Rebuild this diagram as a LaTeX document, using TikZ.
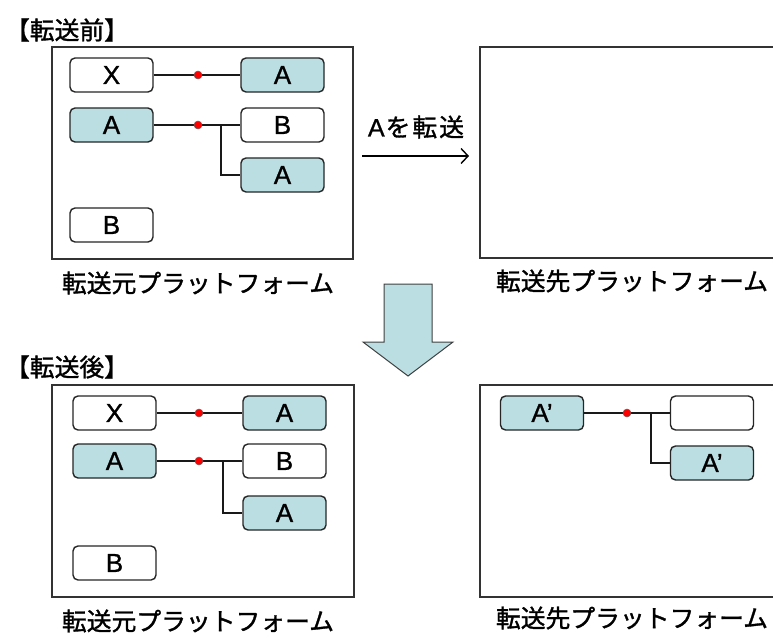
\documentclass[tikz,border=0pt]{standalone}
\usepackage{fontspec}
\usetikzlibrary{arrows.meta}
\setmainfont[FakeBold=1]{Liberation Sans}
\newfontfamily\jp[FakeBold=1.3]{Noto Sans CJK JP}
\definecolor{cellfill}{RGB}{186,222,226}
\definecolor{dotred}{RGB}{255,0,0}
\begin{document}
\begin{tikzpicture}[x=1pt,y=-1pt,
  cell/.style={draw=black!85,line width=1.4pt,rounded corners=5pt,minimum width=83pt,minimum height=34pt,inner sep=0pt,font=\fontsize{26}{26}\selectfont},
  hl/.style={cell,fill=cellfill},
  plain/.style={cell,fill=white},
  plat/.style={draw=black!80,line width=1.3pt,fill=white},
  wire/.style={line width=1.3pt,draw=black!90},
  jdot/.style={circle,fill=dotred,draw=black!60,line width=0.5pt,minimum size=8pt,inner sep=0pt},
  jtext/.style={font=\jp\fontsize{24.8}{24.8}\selectfont,inner sep=0pt}]
\useasboundingbox (0,0) rectangle (773,634);
\clip (0,0) rectangle (773,634);

% ---------- Before ----------
\node[jtext] (t1) at (67,30) {【転送前】};
\draw[plat] (52,47) rectangle (353,259);
\node[plain] (x1) at (111.5,75) {X};
\node[hl] (a1r) at (282.5,75) {A};
\node[hl] (a1) at (111.5,125) {A};
\node[plain] (b1r) at (282.5,125) {B};
\node[hl] (a1l) at (282.5,175) {A};
\node[plain] (b1) at (111.5,225) {B};
\coordinate (d1a) at (198,75);
\coordinate (d1b) at (198,125);
\coordinate (j1) at (221,125);
\draw[wire] (x1.east) -- (a1r.west);
\draw[wire] (a1.east) -- (b1r.west);
\draw[wire] (j1) |- (a1l.west);
\node[jdot] (p1a) at (d1a) {};
\node[jdot] (p1b) at (d1b) {};
\node[jtext] (l1) at (198,283) {転送元プラットフォーム};

\draw[plat] (480,47) rectangle (790,258);
\node[jtext] (l2) at (632,281) {転送先プラットフォーム};

\coordinate (ar0) at (362,156);
\coordinate (ar1) at (469,156);
\draw[line width=1.4pt,-{Straight Barb[length=7pt,width=15pt]}] (ar0) -- (ar1);
\node[jtext] (tl) at (416,127) {{\rmfamily\fontsize{25}{25}\selectfont A}\hspace{1pt}を\hspace{2pt}転\hspace{2pt}送};

% ---------- big arrow ----------
\draw[fill=cellfill,draw=black!75,line width=1pt] (384,284) -- (432,284) -- (432,342) -- (453,342) -- (408,376) -- (363,342) -- (384,342) -- cycle;

% ---------- After ----------
\node[jtext] (t2) at (67,367) {【転送後】};
\draw[plat] (52,385) rectangle (354,597);
\node[plain] (x2) at (114.5,413) {X};
\node[hl] (a2r) at (284.5,413) {A};
\node[hl] (a2) at (114.5,461) {A};
\node[plain] (b2r) at (284.5,461) {B};
\node[hl] (a2l) at (284.5,513) {A};
\node[plain] (b2) at (114.5,563) {B};
\coordinate (d2a) at (199,413);
\coordinate (d2b) at (199,461);
\coordinate (j2) at (223,461);
\draw[wire] (x2.east) -- (a2r.west);
\draw[wire] (a2.east) -- (b2r.west);
\draw[wire] (j2) |- (a2l.west);
\node[jdot] (p2a) at (d2a) {};
\node[jdot] (p2b) at (d2b) {};
\node[jtext] (l3) at (198,621) {転送元プラットフォーム};

\draw[plat] (480,385) rectangle (790,597);
\node[hl] (c1) at (542,413) {A’};
\node[plain] (c2) at (712,413) {};
\node[hl] (c3) at (712,463) {A’};
\coordinate (d3) at (627,413);
\coordinate (j3) at (651,413);
\draw[wire] (c1.east) -- (c2.west);
\draw[wire] (j3) |- (c3.west);
\node[jdot] (p3) at (d3) {};
\node[jtext] (l4) at (632,618) {転送先プラットフォーム};
\end{tikzpicture}
\end{document}
